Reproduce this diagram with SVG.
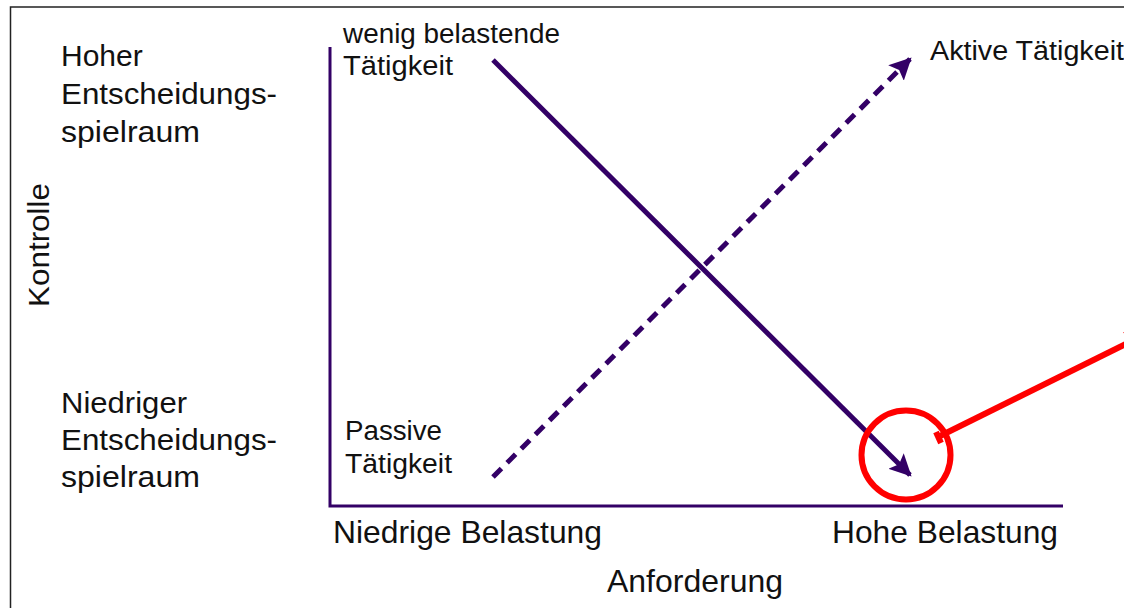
<svg xmlns="http://www.w3.org/2000/svg" width="1124" height="608" viewBox="0 0 1124 608">
  <defs>
    <style>
      text { font-family: "Liberation Sans", Arial, sans-serif; fill: #111; }
      .big { font-size: 30px; }
      .axis { font-size: 32px; }
      .small { font-size: 27px; }
      .ax { stroke: #330066; stroke-width: 3; fill: none; }
      .arr { stroke: #330066; stroke-width: 5; fill: none; }
      .red { stroke: #ff0000; stroke-width: 6; fill: none; }
    </style>
    <marker id="ah" viewBox="0 0 10 10" refX="9" refY="5" markerWidth="4.4" markerHeight="4.4" markerUnits="strokeWidth" orient="auto">
      <path d="M0,0 L10,5 L0,10 L2,5 Z" fill="#330066"/>
    </marker>
    <marker id="rah" viewBox="0 0 10 10" refX="10" refY="5" markerWidth="5" markerHeight="4" markerUnits="strokeWidth" orient="auto">
      <path d="M0,0 L10,5 L0,10 Z" fill="#ff0000"/>
    </marker>
  </defs>
  <rect x="0" y="0" width="1124" height="608" fill="#ffffff"/>
  <rect x="10.5" y="7" width="1200" height="700" fill="none" stroke="#222" stroke-width="1.5"/>

  <g id="axes">
    <polyline class="ax" points="330,47 330,506 1063,506"/>
  </g>

  <g id="connectors">
    <line class="arr" x1="493" y1="60" x2="910" y2="475" marker-end="url(#ah)"/>
    <line class="arr" x1="493" y1="477" x2="910" y2="59" stroke-dasharray="12,8" marker-end="url(#ah)"/>
    <line class="red" x1="938" y1="437" x2="1150" y2="332" marker-end="url(#rah)"/>
    <line class="red" x1="936" y1="432" x2="941" y2="443" stroke-width="5"/>
  </g>

  <g id="highlight">
    <circle class="red" cx="906" cy="455" r="44.5" stroke-width="5"/>
  </g>

  <g id="label-high-control">
    <text class="big" x="61" y="66">Hoher</text>
    <text class="big" x="61" y="104" textLength="216" lengthAdjust="spacingAndGlyphs">Entscheidungs-</text>
    <text class="big" x="61" y="142" textLength="139" lengthAdjust="spacingAndGlyphs">spielraum</text>
  </g>

  <g id="label-low-control">
    <text class="big" x="61" y="413" textLength="126" lengthAdjust="spacingAndGlyphs">Niedriger</text>
    <text class="big" x="61" y="450" textLength="216" lengthAdjust="spacingAndGlyphs">Entscheidungs-</text>
    <text class="big" x="61" y="487" textLength="139" lengthAdjust="spacingAndGlyphs">spielraum</text>
  </g>

  <g id="label-kontrolle">
    <text class="big" transform="translate(49,307) rotate(-90)" textLength="124" lengthAdjust="spacingAndGlyphs">Kontrolle</text>
  </g>

  <g id="node-wenig">
    <text class="small" x="343" y="43" textLength="217" lengthAdjust="spacingAndGlyphs">wenig belastende</text>
    <text class="small" x="343" y="75" textLength="110" lengthAdjust="spacingAndGlyphs">Tätigkeit</text>
  </g>

  <g id="node-aktiv">
    <text class="small" x="930" y="60" textLength="194" lengthAdjust="spacingAndGlyphs">Aktive Tätigkeit</text>
  </g>

  <g id="node-passiv">
    <text class="small" x="345" y="440" textLength="97" lengthAdjust="spacingAndGlyphs">Passive</text>
    <text class="small" x="345" y="473" textLength="107" lengthAdjust="spacingAndGlyphs">Tätigkeit</text>
  </g>

  <g id="label-x">
    <text class="axis" x="333" y="543" textLength="269" lengthAdjust="spacingAndGlyphs">Niedrige Belastung</text>
    <text class="axis" x="832" y="543" textLength="226" lengthAdjust="spacingAndGlyphs">Hohe Belastung</text>
    <text class="axis" x="607" y="592" textLength="176" lengthAdjust="spacingAndGlyphs">Anforderung</text>
  </g>
</svg>
